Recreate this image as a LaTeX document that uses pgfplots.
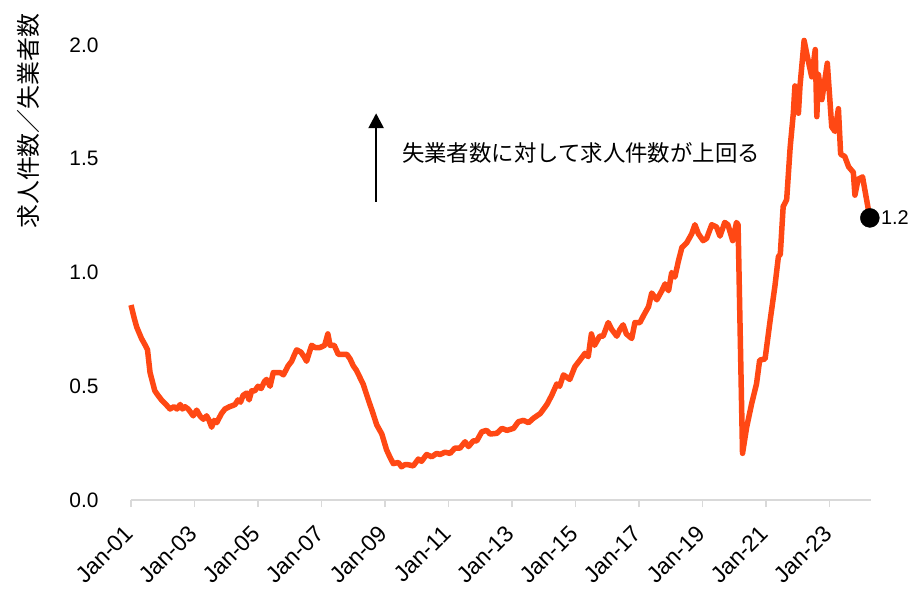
\documentclass[border=0pt]{standalone}
\usepackage{fontspec}
\setmainfont{Liberation Sans}
\newfontfamily\jp{Noto Sans CJK JP}
\usepackage{pgfplots}
\pgfplotsset{compat=1.18}
\usetikzlibrary{arrows.meta}
\definecolor{lineor}{RGB}{255,72,20}
\definecolor{axgray}{RGB}{217,217,217}
\begin{document}
\begin{tikzpicture}
\begin{axis}[
 scale only axis, width=739.8bp, height=477.75bp,
 xmin=2001, xmax=2024.3, ymin=0, ymax=2.1,
 clip=false,
 axis x line*=bottom, axis y line*=left,
 y axis line style={draw=none},
 x axis line style={axgray, line width=1.2bp, -},
 tick align=outside, major tick length=7bp,
 xtick style={axgray, line width=1.2bp},
 ytick style={draw=none},
 xtick={2001,2003,2005,2007,2009,2011,2013,2015,2017,2019,2021,2023},
 xticklabels={Jan-01,Jan-03,Jan-05,Jan-07,Jan-09,Jan-11,Jan-13,Jan-15,Jan-17,Jan-19,Jan-21,Jan-23},
 x tick label style={font=\fontsize{23}{26}\selectfont, yshift=-22bp, xshift=-1bp, rotate=45, anchor=east, inner sep=1bp},
 ytick={0,0.5,1,1.5,2},
 yticklabel style={font=\fontsize{21}{24}\selectfont, anchor=east, xshift=-22bp},
 yticklabel={\pgfmathprintnumber[fixed, fixed zerofill, precision=1, assume math mode=true]{\tick}},
]
\addplot[lineor, line width=5.5bp, line join=round, mark=none] coordinates {
(2001.00,0.857) (2001.10,0.80) (2001.18,0.76) (2001.33,0.71) (2001.45,0.68) (2001.52,0.66)
(2001.60,0.56) (2001.75,0.48) (2001.85,0.46) (2001.96,0.44) (2002.10,0.42) (2002.23,0.40)
(2002.35,0.41) (2002.45,0.40) (2002.55,0.42) (2002.62,0.40) (2002.70,0.41) (2002.80,0.40)
(2002.96,0.37) (2003.07,0.395) (2003.17,0.37) (2003.28,0.355) (2003.38,0.37) (2003.46,0.35)
(2003.54,0.32) (2003.62,0.35) (2003.70,0.34) (2003.85,0.38) (2003.96,0.40) (2004.10,0.41)
(2004.20,0.415) (2004.28,0.42) (2004.37,0.44) (2004.45,0.43) (2004.53,0.46) (2004.64,0.47)
(2004.72,0.44) (2004.80,0.48) (2004.90,0.48) (2005.00,0.50) (2005.10,0.49) (2005.20,0.52)
(2005.27,0.53) (2005.38,0.50) (2005.48,0.56) (2005.60,0.56) (2005.70,0.56) (2005.80,0.55)
(2005.95,0.59) (2006.06,0.61) (2006.15,0.64) (2006.22,0.66) (2006.35,0.65) (2006.45,0.63)
(2006.53,0.61) (2006.62,0.65) (2006.69,0.68) (2006.80,0.67) (2006.95,0.67) (2007.10,0.68)
(2007.20,0.73) (2007.27,0.68) (2007.40,0.68) (2007.53,0.64) (2007.65,0.64) (2007.80,0.64)
(2007.90,0.62) (2008.00,0.59) (2008.10,0.57) (2008.31,0.51) (2008.50,0.43) (2008.60,0.39)
(2008.74,0.33) (2008.90,0.29) (2009.05,0.22) (2009.15,0.19) (2009.26,0.16) (2009.42,0.165)
(2009.52,0.146) (2009.62,0.155) (2009.73,0.155) (2009.89,0.15) (2010.05,0.18) (2010.15,0.17)
(2010.31,0.20) (2010.47,0.19) (2010.63,0.205) (2010.73,0.20) (2010.89,0.21) (2011.05,0.205)
(2011.20,0.228) (2011.36,0.228) (2011.52,0.256) (2011.63,0.235) (2011.78,0.26) (2011.89,0.26)
(2012.05,0.30) (2012.20,0.306) (2012.31,0.29) (2012.52,0.293) (2012.68,0.315) (2012.84,0.306)
(2013.05,0.315) (2013.20,0.344) (2013.36,0.35) (2013.52,0.34) (2013.68,0.36) (2013.89,0.38)
(2014.10,0.42) (2014.25,0.46) (2014.41,0.51) (2014.50,0.50) (2014.62,0.55) (2014.82,0.53)
(2014.98,0.586) (2015.14,0.615) (2015.30,0.645) (2015.40,0.63) (2015.50,0.73) (2015.60,0.68)
(2015.76,0.72) (2015.87,0.72) (2016.03,0.78) (2016.14,0.75) (2016.30,0.72) (2016.40,0.75)
(2016.50,0.77) (2016.60,0.73) (2016.77,0.71) (2016.87,0.78) (2017.03,0.78) (2017.14,0.81)
(2017.30,0.85) (2017.40,0.91) (2017.56,0.88) (2017.72,0.92) (2017.82,0.95) (2017.93,0.92)
(2018.03,1.00) (2018.13,0.98) (2018.24,1.05) (2018.35,1.11) (2018.50,1.13) (2018.66,1.17)
(2018.76,1.21) (2018.87,1.17) (2019.02,1.14) (2019.13,1.15) (2019.29,1.21) (2019.44,1.20)
(2019.55,1.16) (2019.70,1.22) (2019.80,1.21) (2019.95,1.14) (2020.07,1.22) (2020.12,1.21)
(2020.26,0.205) (2020.39,0.32) (2020.55,0.425) (2020.70,0.51) (2020.80,0.615) (2020.97,0.62)
(2021.13,0.79) (2021.28,0.94) (2021.39,1.07) (2021.45,1.08) (2021.54,1.29) (2021.65,1.32)
(2021.76,1.55) (2021.86,1.70) (2021.91,1.82) (2022.02,1.70) (2022.07,1.82) (2022.20,2.02)
(2022.30,1.95) (2022.44,1.86) (2022.55,1.98) (2022.60,1.685) (2022.65,1.87) (2022.76,1.76)
(2022.93,1.92) (2023.07,1.64) (2023.17,1.62) (2023.28,1.72) (2023.35,1.52) (2023.48,1.51)
(2023.60,1.465) (2023.75,1.44) (2023.80,1.34) (2023.90,1.41) (2024.04,1.42) (2024.27,1.24)
};
\addplot[only marks, mark=*, mark size=9.5bp, black] coordinates {(2024.27,1.24)};
\node[anchor=west, inner sep=0pt, font=\fontsize{20}{22}\selectfont] at (axis cs:2024.27,1.24) [xshift=11bp] {1.2};
\draw[-{Triangle[width=15bp,length=15bp]}, line width=2.7bp] (axis cs:2008.72,1.311) -- (axis cs:2008.72,1.70);
\node[anchor=west, inner sep=0pt, font=\jp\fontsize{22.5}{26}\selectfont] at (axis cs:2009.53,1.525) {失業者数に対して求人件数が上回る};
\node[rotate=90, inner sep=0pt, font=\jp\fontsize{24}{26}\selectfont] at (axis description cs:-0.139,0.793) {求人件数／失業者数};
\end{axis}
\pgfresetboundingbox
\path (-131bp,-90bp) rectangle (778bp,500bp);
\end{tikzpicture}
\end{document}
